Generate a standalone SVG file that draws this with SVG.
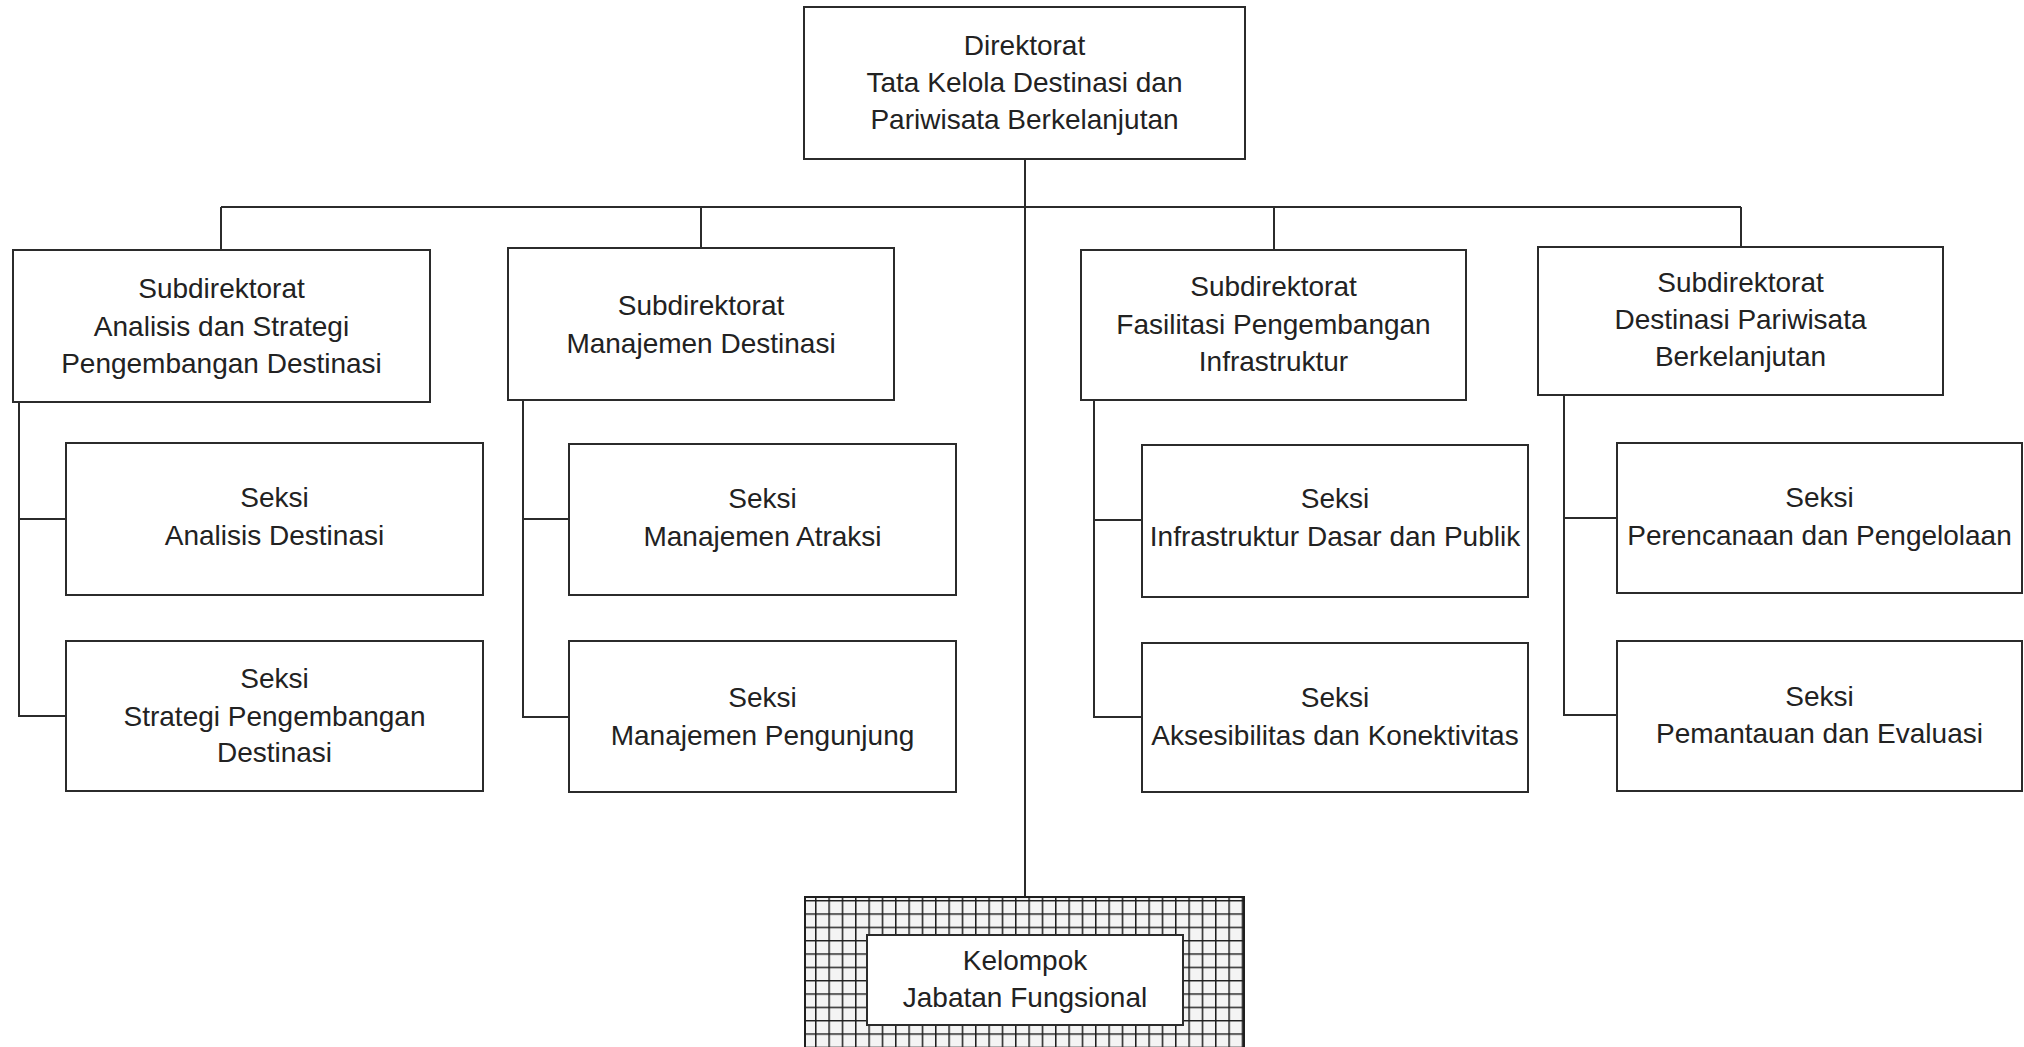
<svg xmlns="http://www.w3.org/2000/svg" width="2024" height="1047" viewBox="0 0 2024 1047">
  <style>
    .box { fill: #ffffff; stroke: #2b2b2b; stroke-width: 2; }
    .lbl { font-family: "Liberation Sans", Arial, sans-serif; font-size: 28px; fill: #222222; text-anchor: middle; }
    .conn { stroke: #2b2b2b; stroke-width: 2; fill: none; }
  </style>
  <defs>
    <pattern id="grid" patternUnits="userSpaceOnUse" x="801.7" y="900" width="13.333" height="13.333">
      <rect width="13.333" height="13.333" fill="#f4f4f4"/>
      <path d="M0 0.5 H13.333 M0.5 0 V13.333" stroke="#1e1e1e" stroke-width="2" fill="none"/>
    </pattern>
  </defs>
  <rect width="2024" height="1047" fill="#ffffff"/>

  <g id="connectors">
    <line class="conn" x1="1025" y1="159" x2="1025" y2="897"/>
    <line class="conn" x1="221" y1="207" x2="1741" y2="207"/>
    <line class="conn" x1="221" y1="207" x2="221" y2="250"/>
    <line class="conn" x1="701" y1="207" x2="701" y2="248"/>
    <line class="conn" x1="1274" y1="207" x2="1274" y2="250"/>
    <line class="conn" x1="1741" y1="207" x2="1741" y2="247"/>
    <polyline class="conn" points="19,402 19,716 66,716"/>
    <line class="conn" x1="19" y1="519" x2="66" y2="519"/>
    <polyline class="conn" points="523,400 523,717 569,717"/>
    <line class="conn" x1="523" y1="519" x2="569" y2="519"/>
    <polyline class="conn" points="1094,400 1094,717 1142,717"/>
    <line class="conn" x1="1094" y1="520" x2="1142" y2="520"/>
    <polyline class="conn" points="1564,395 1564,715 1617,715"/>
    <line class="conn" x1="1564" y1="518" x2="1617" y2="518"/>
  </g>

  <g id="direktorat">
    <rect class="box" x="804" y="7" width="441" height="152"/>
    <text class="lbl" x="1024.5" y="55">Direktorat</text>
    <text class="lbl" x="1024.5" y="92">Tata Kelola Destinasi dan</text>
    <text class="lbl" x="1024.5" y="129">Pariwisata Berkelanjutan</text>
  </g>

  <g id="subdit-analisis">
    <rect class="box" x="13" y="250" width="417" height="152"/>
    <text class="lbl" x="221.5" y="298">Subdirektorat</text>
    <text class="lbl" x="221.5" y="336">Analisis dan Strategi</text>
    <text class="lbl" x="221.5" y="373">Pengembangan Destinasi</text>
  </g>
  <g id="seksi-analisis">
    <rect class="box" x="66" y="443" width="417" height="152"/>
    <text class="lbl" x="274.5" y="507">Seksi</text>
    <text class="lbl" x="274.5" y="545">Analisis Destinasi</text>
  </g>
  <g id="seksi-strategi">
    <rect class="box" x="66" y="641" width="417" height="150"/>
    <text class="lbl" x="274.5" y="688">Seksi</text>
    <text class="lbl" x="274.5" y="726">Strategi Pengembangan</text>
    <text class="lbl" x="274.5" y="762">Destinasi</text>
  </g>

  <g id="subdit-manajemen">
    <rect class="box" x="508" y="248" width="386" height="152"/>
    <text class="lbl" x="701" y="315">Subdirektorat</text>
    <text class="lbl" x="701" y="353">Manajemen Destinasi</text>
  </g>
  <g id="seksi-atraksi">
    <rect class="box" x="569" y="444" width="387" height="151"/>
    <text class="lbl" x="762.5" y="508">Seksi</text>
    <text class="lbl" x="762.5" y="546">Manajemen Atraksi</text>
  </g>
  <g id="seksi-pengunjung">
    <rect class="box" x="569" y="641" width="387" height="151"/>
    <text class="lbl" x="762.5" y="707">Seksi</text>
    <text class="lbl" x="762.5" y="745">Manajemen Pengunjung</text>
  </g>

  <g id="subdit-fasilitasi">
    <rect class="box" x="1081" y="250" width="385" height="150"/>
    <text class="lbl" x="1273.5" y="296">Subdirektorat</text>
    <text class="lbl" x="1273.5" y="334">Fasilitasi Pengembangan</text>
    <text class="lbl" x="1273.5" y="371">Infrastruktur</text>
  </g>
  <g id="seksi-infrastruktur">
    <rect class="box" x="1142" y="445" width="386" height="152"/>
    <text class="lbl" x="1335" y="508">Seksi</text>
    <text class="lbl" x="1335" y="546">Infrastruktur Dasar dan Publik</text>
  </g>
  <g id="seksi-aksesibilitas">
    <rect class="box" x="1142" y="643" width="386" height="149"/>
    <text class="lbl" x="1335" y="707">Seksi</text>
    <text class="lbl" x="1335" y="745">Aksesibilitas dan Konektivitas</text>
  </g>

  <g id="subdit-destinasi">
    <rect class="box" x="1538" y="247" width="405" height="148"/>
    <text class="lbl" x="1740.5" y="292">Subdirektorat</text>
    <text class="lbl" x="1740.5" y="329">Destinasi Pariwisata</text>
    <text class="lbl" x="1740.5" y="366">Berkelanjutan</text>
  </g>
  <g id="seksi-perencanaan">
    <rect class="box" x="1617" y="443" width="405" height="150"/>
    <text class="lbl" x="1819.5" y="507">Seksi</text>
    <text class="lbl" x="1819.5" y="545">Perencanaan dan Pengelolaan</text>
  </g>
  <g id="seksi-pemantauan">
    <rect class="box" x="1617" y="641" width="405" height="150"/>
    <text class="lbl" x="1819.5" y="706">Seksi</text>
    <text class="lbl" x="1819.5" y="743">Pemantauan dan Evaluasi</text>
  </g>

  <g id="kelompok-jabatan">
    <rect x="805" y="897" width="439" height="170" fill="url(#grid)" stroke="#1e1e1e" stroke-width="2"/>
    <rect class="box" x="867" y="935" width="316" height="90"/>
    <text class="lbl" x="1025" y="970">Kelompok</text>
    <text class="lbl" x="1025" y="1007">Jabatan Fungsional</text>
  </g>
</svg>
